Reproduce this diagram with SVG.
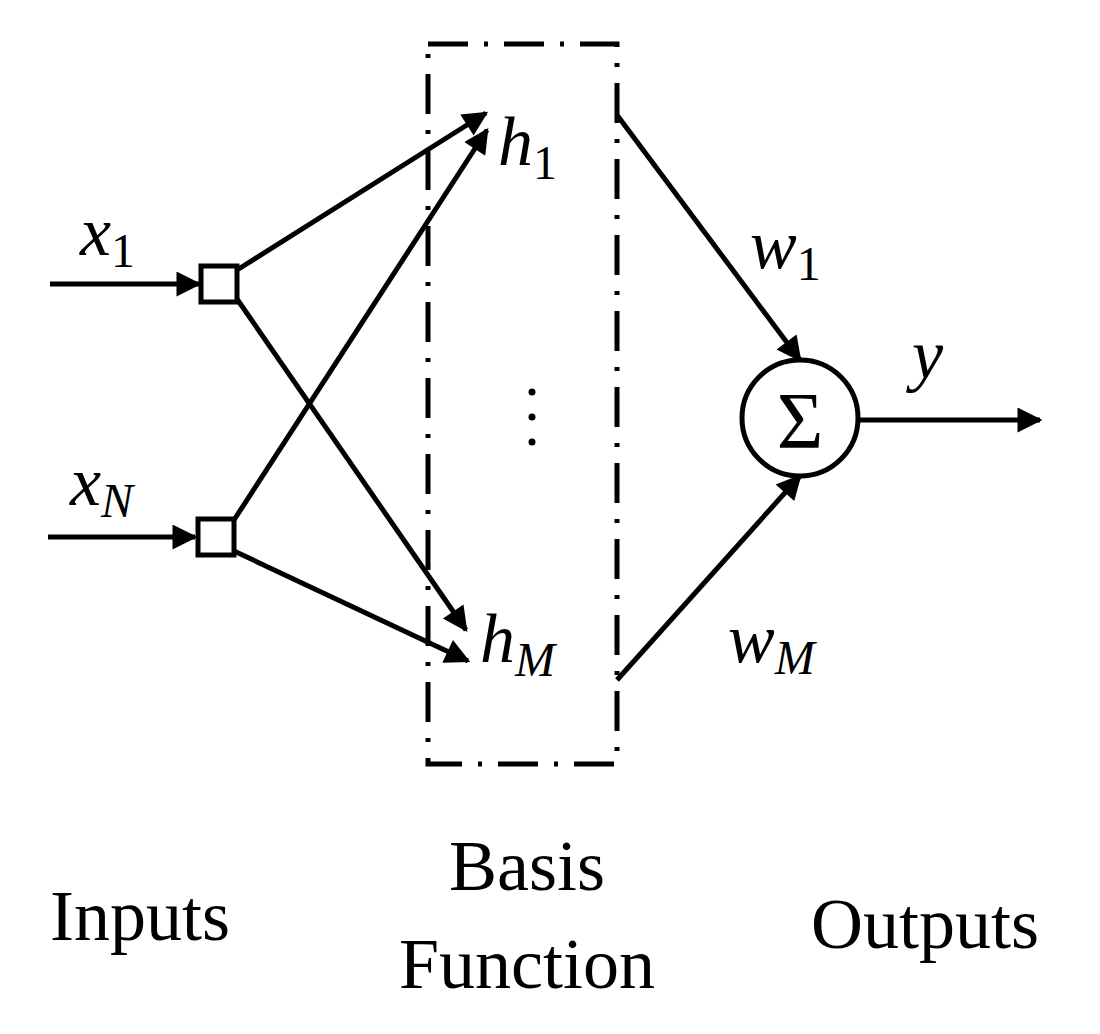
<svg xmlns="http://www.w3.org/2000/svg" width="1100" height="1034" viewBox="0 0 1100 1034">
<defs><marker id="ah" viewBox="0 0 10 10" refX="9" refY="5" markerWidth="6" markerHeight="5" orient="auto" markerUnits="strokeWidth"><path d="M0,0 L10,5 L0,10 z" fill="#000"/></marker></defs>
<style>
.l{stroke:#000;stroke-width:5;fill:none}
.t{font-family:"Liberation Serif",serif;fill:#000}
.i{font-style:italic}
</style>
<rect x="0" y="0" width="1100" height="1034" fill="#fff"/>
<g id="box"><rect x="428" y="44" width="189" height="720" class="l" stroke-dasharray="40,16,4,16"/></g>
<g id="connectors">
<line x1="50" y1="284" x2="199" y2="284" class="l" marker-end="url(#ah)"/>
<line x1="48" y1="537" x2="195" y2="537" class="l" marker-end="url(#ah)"/>
<line x1="237" y1="270" x2="486" y2="113" class="l" marker-end="url(#ah)"/>
<line x1="237" y1="299" x2="466" y2="630" class="l" marker-end="url(#ah)"/>
<line x1="234" y1="520" x2="487" y2="130" class="l" marker-end="url(#ah)"/>
<line x1="234" y1="551" x2="468" y2="661" class="l" marker-end="url(#ah)"/>
<line x1="617" y1="115" x2="800" y2="360" class="l" marker-end="url(#ah)"/>
<line x1="617" y1="680" x2="800" y2="476" class="l" marker-end="url(#ah)"/>
<line x1="858" y1="420" x2="1040" y2="420" class="l" marker-end="url(#ah)"/>
</g>
<g id="x1"><rect x="201" y="266" width="36" height="36" class="l" fill="#fff"/></g>
<g id="xN"><rect x="198" y="519" width="36" height="36" class="l" fill="#fff"/></g>
<g id="sum"><circle cx="800" cy="418" r="58" class="l" fill="#fff"/><text x="800" y="448" text-anchor="middle" class="t" font-size="80">Σ</text></g>
<g id="dots" fill="#000"><circle cx="532" cy="392" r="3.5"/><circle cx="532" cy="417" r="3.5"/><circle cx="532" cy="442" r="3.5"/></g>
<g id="labels" font-size="70">
<text x="80" y="255" class="t"><tspan class="i">x</tspan><tspan font-size="48" dy="12">1</tspan></text>
<text x="70" y="505" class="t"><tspan class="i">x</tspan><tspan class="i" font-size="48" dy="12">N</tspan></text>
<text x="498" y="165" class="t"><tspan class="i">h</tspan><tspan font-size="48" dy="14">1</tspan></text>
<text x="480" y="662" class="t"><tspan class="i">h</tspan><tspan class="i" font-size="48" dy="14">M</tspan></text>
<text x="750" y="268" class="t"><tspan class="i">w</tspan><tspan font-size="48" dy="12">1</tspan></text>
<text x="728" y="662" class="t"><tspan class="i">w</tspan><tspan class="i" font-size="48" dy="12">M</tspan></text>
<text x="912" y="378" class="t i">y</text>
<text x="140" y="940" text-anchor="middle" class="t" font-size="72">Inputs</text>
<text x="527" y="890" text-anchor="middle" class="t" font-size="72">Basis</text>
<text x="527" y="988" text-anchor="middle" class="t" font-size="72">Function</text>
<text x="925" y="948" text-anchor="middle" class="t" font-size="72">Outputs</text>
</g>
</svg>
